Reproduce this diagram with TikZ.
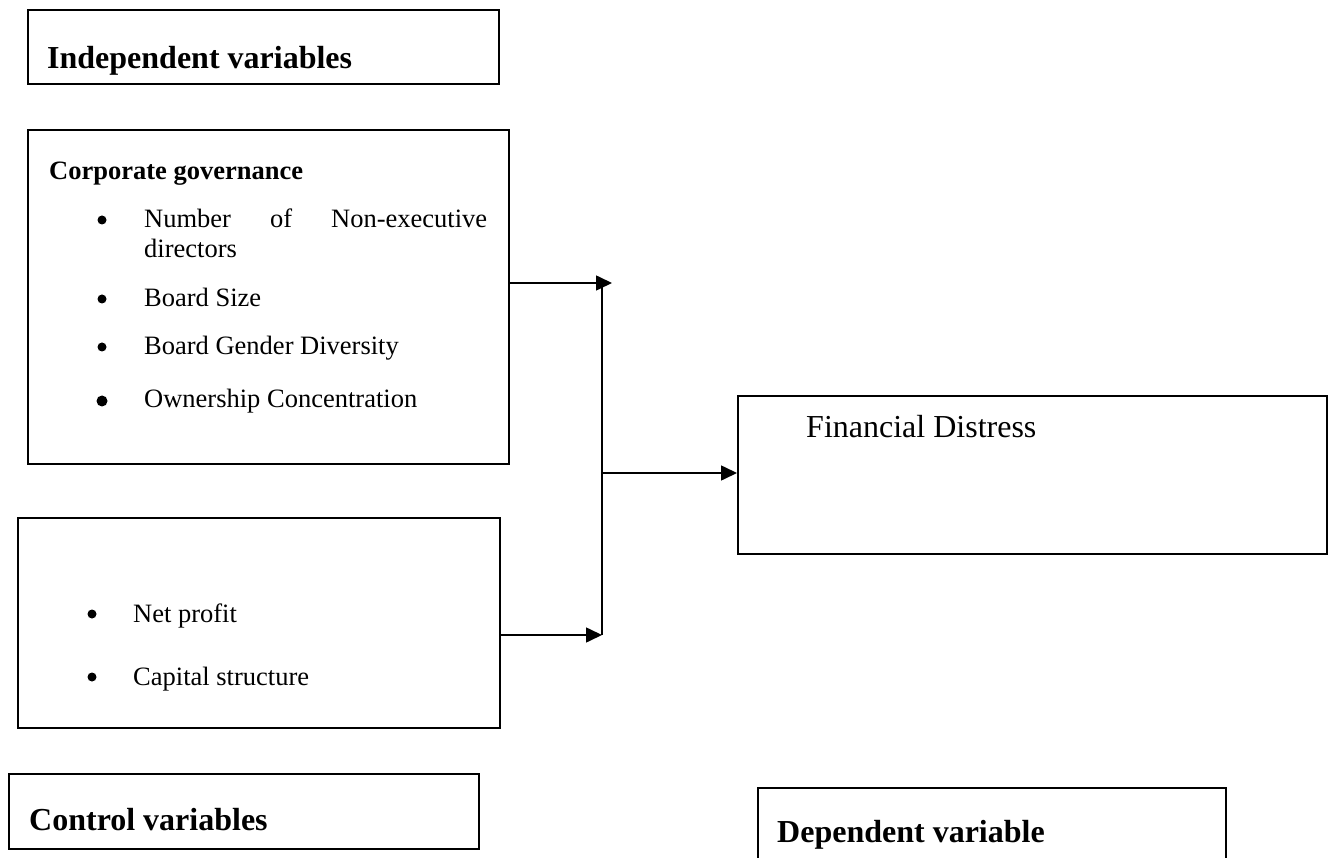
\documentclass[tikz,border=0pt]{standalone}
\usepackage{fontspec}
\setmainfont{Liberation Serif}
\usetikzlibrary{arrows.meta}
\begin{document}
\begin{tikzpicture}[x=1pt,y=-1pt,
  box/.style={draw=black,line width=1.6pt,rectangle,inner sep=0pt,anchor=north west},
  hdr/.style={anchor=base west,inner sep=0pt,font=\fontsize{32pt}{38pt}\selectfont\bfseries},
  sub/.style={anchor=base west,inner sep=0pt,font=\fontsize{26.5pt}{31pt}\selectfont\bfseries},
  item/.style={anchor=base west,inner sep=0pt,font=\fontsize{26.5pt}{31pt}\selectfont},
  bul/.style={circle,fill=black,inner sep=0pt,minimum size=9pt},
  big/.style={anchor=base west,inner sep=0pt,font=\fontsize{32pt}{38pt}\selectfont},
  conn/.style={line width=1.6pt},
  arr/.style={line width=1.6pt,-{Triangle[length=16pt,width=15pt]}}]
\clip (0,0) rectangle (1328,858);
\useasboundingbox (0,0) rectangle (1328,858);
% boxes
\node[box,minimum width=471pt,minimum height=74pt] (indep) at (27,9) {};
\node[box,minimum width=481pt,minimum height=334pt] (cg) at (27,129) {};
\node[box,minimum width=482pt,minimum height=210pt] (ctrl) at (17,517) {};
\node[box,minimum width=470pt,minimum height=75pt] (ctrllab) at (8,773) {};
\node[box,minimum width=589pt,minimum height=158pt] (fd) at (737,395) {};
\node[box,minimum width=468pt,minimum height=120pt] (dep) at (757,787) {};
% texts
\node[hdr] (tindep) at (47,69) {Independent variables};
\node[sub] (tcg) at (49,180) {Corporate governance};
\node[bul] (b1) at (102,220) {};
\node[item] (t1) at (144,228) {\makebox[343pt][s]{Number of Non-executive}};
\node[item] (t1b) at (144,258) {directors};
\node[bul] (b2) at (102,299) {};
\node[item] (t2) at (144,307) {Board Size};
\node[bul] (b3) at (102,347) {};
\node[item] (t3) at (144,355) {Board Gender Diversity};
\node[bul,minimum size=11pt] (b4) at (102,401) {};
\node[item] (t4) at (144,408) {Ownership Concentration};
\node[bul] (b5) at (92,614) {};
\node[item] (t5) at (133,622) {Net profit};
\node[bul] (b6) at (92,677) {};
\node[item] (t6) at (133,685) {Capital structure};
\node[hdr] (tctrl) at (29,830) {Control variables};
\node[big] (tfd) at (806,437) {Financial Distress};
\node[hdr] (tdep) at (777,842) {Dependent variable};
% connectors
\coordinate (vtop) at (602,283);
\coordinate (vmid) at (602,473);
\coordinate (vbot) at (602,635);
\coordinate (ttop) at (612,283);
\draw[arr] (cg.east |- vtop) -- (ttop);
\draw[conn] (vtop) -- (vbot);
\draw[arr] (ctrl.east |- vbot) -- (vbot);
\draw[arr] (vmid) -- (fd.west |- vmid);
\end{tikzpicture}
\end{document}
